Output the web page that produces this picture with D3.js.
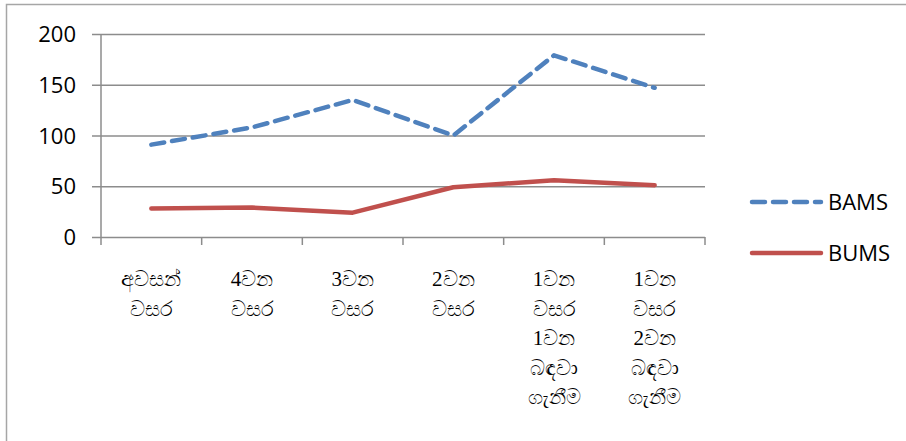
<!DOCTYPE html>
<html>
<head>
<meta charset="utf-8">
<script src="https://cdn.jsdelivr.net/npm/d3@7"></script>
<style>
  html, body { margin: 0; padding: 0; background: #fff; }
  svg { display: block; }
</style>
</head>
<body>
<svg id="chart" width="906" height="441"></svg>
<script>
const categories = [
  ["අවසන්", "වසර"],
  ["4වන", "වසර"],
  ["3වන", "වසර"],
  ["2වන", "වසර"],
  ["1වන", "වසර", "1වන", "බඳවා", "ගැනීම"],
  ["1වන", "වසර", "2වන", "බඳවා", "ගැනීම"]
];
const seriesNames = ["BAMS", "BUMS"];
const bams = [91, 108, 135, 100, 179, 147];
const bums = [28, 29, 24, 49, 56, 51];
const yTicks = [0, 50, 100, 150, 200];

(function () {
const svg = d3.select("#chart");
const pLeft = 101, pRight = 705, pTop = 34, pBottom = 237;
const catKeys = categories.map((c, i) => "c" + i);

const x = d3.scaleBand().domain(catKeys).range([pLeft, pRight]).padding(0);
const y = d3.scaleLinear().domain([0, 200]).range([pBottom, pTop]);

// outer border (cropped)
svg.append("rect")
  .attr("x", 6.5).attr("y", 4.5).attr("width", 1000).attr("height", 1000)
  .attr("fill", "none").attr("stroke", "#a6a6a6").attr("stroke-width", 1.5);

// gridlines + y ticks
const yAxis = d3.axisLeft(y).tickValues(yTicks).tickSize(-(pRight - pLeft)).tickPadding(25);
const gy = svg.append("g").attr("transform", `translate(${pLeft},0)`).call(yAxis);
gy.select(".domain").remove();
gy.selectAll(".tick line")
  .attr("x1", -9).attr("x2", pRight - pLeft)
  .attr("stroke", "#8c8c8c").attr("stroke-width", 1.5);
gy.selectAll(".tick text")
  .attr("font-family", "'Open Sans', 'Liberation Sans', sans-serif")
  .attr("font-size", 22).attr("fill", "#000").attr("dy", "0.35em");

// y axis line
svg.append("line")
  .attr("x1", pLeft).attr("x2", pLeft).attr("y1", pTop).attr("y2", pBottom)
  .attr("stroke", "#8c8c8c").attr("stroke-width", 1.5);

// x axis boundary ticks
const boundaries = catKeys.map(k => x(k)).concat([pRight]);
svg.append("g").selectAll("line").data(boundaries).join("line")
  .attr("x1", d => d).attr("x2", d => d)
  .attr("y1", pBottom).attr("y2", pBottom + 8)
  .attr("stroke", "#8c8c8c").attr("stroke-width", 1.5);

// x labels
const xl = svg.append("g");
categories.forEach((lines, i) => {
  const cx = x(catKeys[i]) + x.bandwidth() / 2;
  const t = xl.append("text")
    .attr("x", cx)
    .attr("y", 286)
    .attr("text-anchor", "middle")
    .attr("font-family", "'Liberation Serif', 'Noto Serif', serif")
    .attr("font-size", 21).attr("fill", "#000");
  lines.forEach((ln, j) => {
    t.append("tspan")
      .attr("x", cx)
      .attr("dy", j === 0 ? 0 : 29.5)
      .text(ln);
  });
});

// lines
const line = d3.line()
  .x((d, i) => x(catKeys[i]) + x.bandwidth() / 2)
  .y(d => y(d));

const styles = [
  { color: "#4f81bd", dash: "13,8" },
  { color: "#c0504d", dash: null }
];
[bams, bums].forEach((vals, k) => {
  svg.append("path")
    .datum(vals)
    .attr("d", line)
    .attr("fill", "none")
    .attr("stroke", styles[k].color)
    .attr("stroke-width", 4.5)
    .attr("stroke-linecap", "round")
    .attr("stroke-linejoin", "round")
    .attr("stroke-dasharray", styles[k].dash);
});

// legend
const legY = [202, 253];
seriesNames.forEach((name, k) => {
  svg.append("line")
    .attr("x1", 752).attr("x2", 821)
    .attr("y1", legY[k]).attr("y2", legY[k])
    .attr("stroke", styles[k].color).attr("stroke-width", 4.5)
    .attr("stroke-linecap", "round")
    .attr("stroke-dasharray", styles[k].dash);
  svg.append("text")
    .attr("x", 828).attr("y", legY[k])
    .attr("dy", "0.35em")
    .attr("font-family", "'Open Sans', 'Liberation Sans', sans-serif")
    .attr("font-size", 22).attr("fill", "#000")
    .text(name);
});
})();
</script>
</body>
</html>
